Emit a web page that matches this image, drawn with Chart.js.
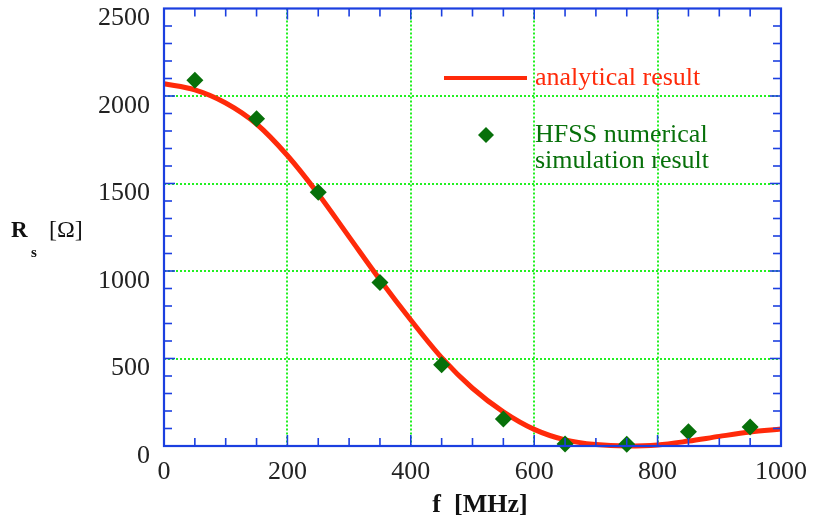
<!DOCTYPE html>
<html>
<head>
<meta charset="utf-8">
<script src="https://cdn.jsdelivr.net/npm/chart.js@4.4.0/dist/chart.umd.min.js"></script>
<style>
  html, body { margin: 0; padding: 0; background: #fff; }
  #wrap { width: 814px; height: 518px; }
</style>
</head>
<body>
<div id="wrap"><canvas id="chart"></canvas></div>
<script>
// analytical curve
const freqCurve = [0, 50, 100, 150, 200, 250, 300, 350, 400, 450, 500, 550, 600, 650, 700, 750, 800, 850, 900, 950, 1000];
const rsCurve = [2070, 2035, 1960, 1840, 1660, 1440, 1195, 950, 720, 505, 330, 195, 95, 35, 8, 0, 6, 28, 55, 80, 97];
// HFSS simulation points
const freqSim = [50, 150, 250, 350, 450, 550, 650, 750, 850, 950];
const rsSim = [2090, 1870, 1450, 935, 465, 155, 12, 10, 82, 108];
// axis ticks
const xTicks = [0, 200, 400, 600, 800, 1000];
const yTicks = [0, 500, 1000, 1500, 2000, 2500];

const BLUE = '#1b3fe0';
const RED = '#ff2a0a';
const GREEN = '#07700a';
const GRID = '#22f022';
const SERIF = '"Liberation Serif", "DejaVu Serif", serif';

const hideEdge = (c) => (c.tick && (c.tick.value === c.scale.min || c.tick.value === c.scale.max)) ? 'rgba(0,0,0,0)' : GRID;

// 테두리, 안쪽 눈금, 범례, 축 제목
const framePlugin = {
  id: 'frame',
  afterDraw(chart) {
    const { ctx, chartArea: a, scales: { x, y } } = chart;
    ctx.save();
    ctx.strokeStyle = BLUE;
    ctx.lineWidth = 1.6;
    const seg = (x1, y1, x2, y2) => { ctx.beginPath(); ctx.moveTo(x1, y1); ctx.lineTo(x2, y2); ctx.stroke(); };
    for (let v = 50; v < 1000; v += 50) {
      const px = x.getPixelForValue(v);
      const len = v % 200 === 0 ? 11 : 8;
      seg(px, a.bottom, px, a.bottom - len);
      seg(px, a.top, px, a.top + len);
    }
    for (let v = 100; v < 2500; v += 100) {
      const py = y.getPixelForValue(v);
      const len = v % 500 === 0 ? 11 : 8;
      seg(a.left, py, a.left + len, py);
      seg(a.right, py, a.right - len, py);
    }
    ctx.lineWidth = 2.2;
    ctx.strokeRect(a.left, a.top, a.right - a.left, a.bottom - a.top);

    // legend
    ctx.strokeStyle = RED;
    ctx.lineWidth = 4;
    seg(444, 78, 527, 78);
    ctx.fillStyle = GREEN;
    ctx.beginPath();
    ctx.moveTo(486, 127); ctx.lineTo(494, 135); ctx.lineTo(486, 143); ctx.lineTo(478, 135);
    ctx.closePath(); ctx.fill();
    ctx.font = '26px ' + SERIF;
    ctx.textBaseline = 'alphabetic';
    ctx.fillStyle = RED;
    ctx.fillText('analytical result', 535, 85);
    ctx.fillStyle = GREEN;
    ctx.fillText('HFSS numerical', 535, 142);
    ctx.fillText('simulation result', 535, 168);

    // y axis title
    ctx.fillStyle = '#111';
    ctx.font = 'bold 23px ' + SERIF;
    ctx.fillText('R', 11, 237);
    ctx.font = 'bold 15px ' + SERIF;
    ctx.fillText('s', 31, 257);
    ctx.font = '24px ' + SERIF;
    ctx.fillText('[Ω]', 49, 237);

    // x axis title
    ctx.font = 'bold 26px ' + SERIF;
    ctx.textAlign = 'center';
    ctx.fillText('f  [MHz]', 480, 512);
    ctx.restore();
  }
};

new Chart(document.getElementById('chart'), {
  type: 'scatter',
  plugins: [framePlugin],
  data: {
    datasets: [
      {
        label: 'analytical result',
        data: freqCurve.map((f, i) => ({ x: f, y: rsCurve[i] })),
        showLine: true,
        borderColor: RED,
        borderWidth: 5,
        pointRadius: 0,
        cubicInterpolationMode: 'monotone',
        clip: false,
        order: 2,
      },
      {
        label: 'HFSS numerical simulation result',
        data: freqSim.map((f, i) => ({ x: f, y: rsSim[i] })),
        pointStyle: 'rectRot',
        pointRadius: 8.5,
        backgroundColor: GREEN,
        borderColor: GREEN,
        borderWidth: 0,
        clip: false,
        order: 1,
      },
    ],
  },
  options: {
    responsive: true,
    maintainAspectRatio: false,
    animation: false,
    layout: { padding: { left: 0, top: 7, right: 33, bottom: 0 } },
    plugins: {
      legend: { display: false },
      tooltip: { enabled: false },
    },
    scales: {
      x: {
        type: 'linear',
        min: 0,
        max: 1000,
        afterFit: (s) => { s.height = 72; s.paddingLeft = 0; s.paddingRight = 0; },
        afterBuildTicks: (s) => { s.ticks = xTicks.map((v) => ({ value: v })); },
        ticks: { color: '#222', font: { family: SERIF, size: 26 }, padding: 11, maxRotation: 0, callback: (v) => String(v) },
        grid: { color: hideEdge, lineWidth: 2, drawTicks: false },
        border: { display: false, dash: [2, 2] },
      },
      y: {
        type: 'linear',
        min: 0,
        max: 2500,
        afterFit: (s) => { s.width = 164; s.paddingTop = 0; s.paddingBottom = 0; },
        afterBuildTicks: (s) => { s.ticks = yTicks.map((v) => ({ value: v })); },
        ticks: { color: '#222', font: { family: SERIF, size: 26 }, padding: 14, labelOffset: 10, callback: (v) => String(v) },
        grid: { color: hideEdge, lineWidth: 2, drawTicks: false },
        border: { display: false, dash: [2, 2] },
      },
    },
  },
});
</script>
</body>
</html>
